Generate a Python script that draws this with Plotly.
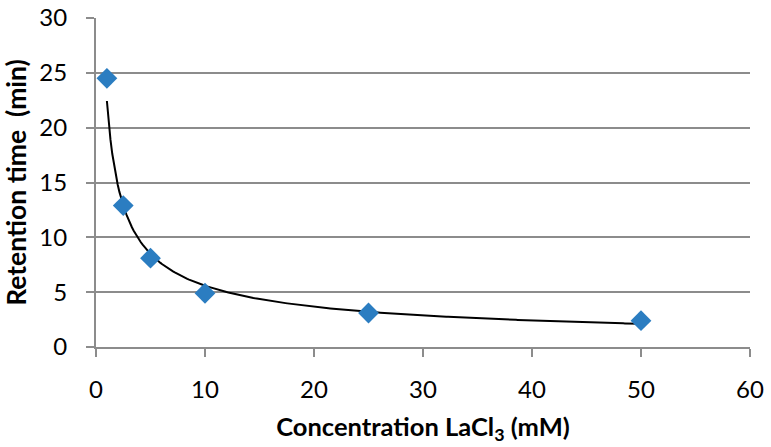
import numpy as np
import plotly.graph_objects as go

conc = [1, 2.5, 5, 10, 25, 50]
ret_time = [24.5, 12.9, 8.1, 4.9, 3.1, 2.4]

x_ticks = [0, 10, 20, 30, 40, 50, 60]
y_ticks = [0, 5, 10, 15, 20, 25, 30]

# Power-law trendline (least squares fit in log space, as spreadsheet trendlines do)
b, ln_a = np.polyfit(np.log(conc), np.log(ret_time), 1)
xf = np.linspace(min(conc), max(conc), 300)
yf = np.exp(ln_a) * xf ** b

FONT = "Lato"
GRID = "#8c8c8c"

fig = go.Figure()
fig.add_trace(go.Scatter(x=xf, y=yf, mode="lines",
                         line=dict(color="black", width=2), showlegend=False,
                         hoverinfo="skip"))
fig.add_trace(go.Scatter(x=conc, y=ret_time, mode="markers",
                         marker=dict(symbol="diamond", size=16, color="#2b7dc1",
                                     line=dict(width=0)),
                         showlegend=False))

fig.update_layout(
    width=771, height=447,
    margin=dict(l=96, r=21, t=18, b=100),
    paper_bgcolor="white", plot_bgcolor="white",
    font=dict(family=FONT, color="black", size=24),
    xaxis=dict(range=[0, 60], tickvals=x_ticks, showgrid=False, zeroline=False,
               automargin=False,
               showline=True, linecolor=GRID, linewidth=2,
               ticks="outside", ticklen=8, tickwidth=2, tickcolor=GRID,
               ticklabelstandoff=12,
               title=dict(text="<b>Concentration LaCl<sub>3</sub> (mM)</b>",
                          font=dict(size=25.5), standoff=16)),
    yaxis=dict(range=[0, 30], tickvals=y_ticks, showgrid=True, gridcolor=GRID,
               gridwidth=2, zeroline=False, automargin=False,
               showline=True, linecolor=GRID, linewidth=2,
               ticks="outside", ticklen=8, tickwidth=2, tickcolor=GRID,
               ticklabelstandoff=14,
               title=dict(text="<b>Retention time\u00a0 (min)</b>",
                          font=dict(size=26.5), standoff=10)),
)

fig.write_html("out.html", config={"displayModeBar": False},
               post_script="document.body.style.margin='0';")
